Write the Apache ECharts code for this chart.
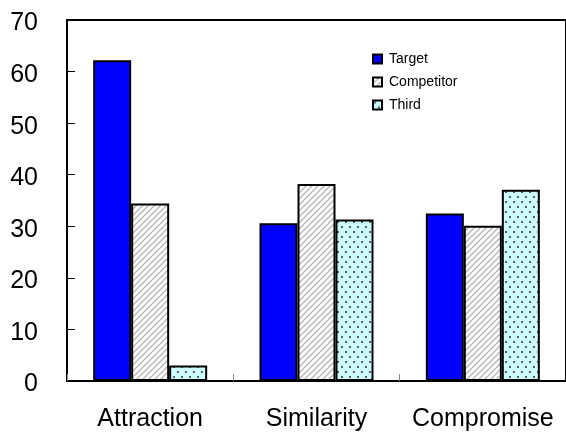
<!DOCTYPE html>
<html>
<head>
<meta charset="utf-8">
<style>
  html, body { margin: 0; padding: 0; background: #fff; }
  #chart { width: 566px; height: 432px; }
</style>
<script src="https://cdn.jsdelivr.net/npm/echarts@6/dist/echarts.min.js"></script>
</head>
<body>
<div id="chart"></div>
<script>
// Choice shares (%) by context effect
const categories = ['Attraction', 'Similarity', 'Compromise'];
const seriesNames = ['Target', 'Competitor', 'Third'];
const targetValues = [62.2, 30.6, 32.5];
const competitorValues = [34.4, 38.2, 30.1];
const thirdValues = [3.0, 31.3, 37.1];
const yTicks = [0, 10, 20, 30, 40, 50, 60, 70];

// Fill patterns
function hatchPattern() {
  const c = document.createElement('canvas');
  c.width = 6; c.height = 6;
  const g = c.getContext('2d');
  g.fillStyle = '#ffffff';
  g.fillRect(0, 0, 6, 6);
  g.strokeStyle = '#b4b4b4';
  g.lineWidth = 1.3;
  g.beginPath();
  g.moveTo(-1, 7); g.lineTo(7, -1);
  g.moveTo(-4, 4); g.lineTo(4, -4);
  g.moveTo(2, 10); g.lineTo(10, 2);
  g.stroke();
  return { image: c, repeat: 'repeat' };
}
function dotPattern() {
  const c = document.createElement('canvas');
  c.width = 8; c.height = 10;
  const g = c.getContext('2d');
  g.fillStyle = '#ccffff';
  g.fillRect(0, 0, 8, 10);
  g.fillStyle = '#606060';
  g.fillRect(1, 1, 2, 2);
  g.fillRect(5, 6, 2, 2);
  return { image: c, repeat: 'repeat' };
}

const fills = ['#0000ff', hatchPattern(), dotPattern()];
const values = [targetValues, competitorValues, thirdValues];

const chart = echarts.init(document.getElementById('chart'), null, { renderer: 'canvas' });
chart.setOption({
  animation: false,
  backgroundColor: '#ffffff',
  grid: {
    left: 67, top: 20, width: 506, height: 361,
    show: true, borderColor: '#000', borderWidth: 2, backgroundColor: 'transparent'
  },
  legend: {
    orient: 'vertical',
    left: 372, top: 52,
    padding: 0,
    itemWidth: 9, itemHeight: 9, itemGap: 9,
    icon: 'rect',
    textStyle: { fontFamily: 'Liberation Sans', fontSize: 14, color: '#000', padding: [0, 0, 0, 2] },
    data: seriesNames
  },
  xAxis: {
    type: 'category',
    data: categories,
    axisLine: { lineStyle: { color: '#000', width: 2 } },
    axisTick: { show: true, inside: true, length: 7, lineStyle: { color: '#888', width: 1 } },
    axisLabel: { interval: 0, fontFamily: 'Liberation Sans', fontSize: 25, color: '#000', margin: 26 }
  },
  yAxis: {
    type: 'value',
    min: yTicks[0], max: yTicks[yTicks.length - 1], interval: yTicks[1] - yTicks[0],
    axisLine: { show: true, lineStyle: { color: '#000', width: 2 } },
    axisTick: { show: true, inside: true, length: 8, lineStyle: { color: '#000', width: 1 } },
    splitLine: { show: false },
    axisLabel: {
      margin: 29,
      formatter: '{v|{value}}',
      rich: { v: { fontFamily: 'Liberation Sans', fontSize: 25, color: '#000', padding: [7, 0, 0, 0] } }
    }
  },
  series: seriesNames.map((name, i) => ({
    name: name,
    type: 'bar',
    data: values[i],
    barGap: '0%',
    barWidth: 38,
    itemStyle: { color: fills[i], borderColor: '#000', borderWidth: 2 }
  }))
});
</script>
</body>
</html>
